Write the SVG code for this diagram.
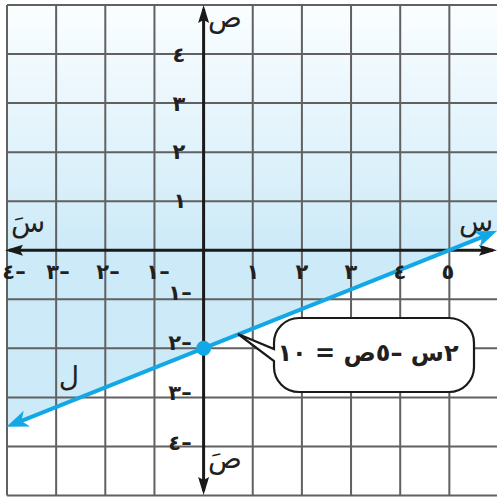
<svg xmlns="http://www.w3.org/2000/svg" width="497" height="497" viewBox="0 0 497 497">
<style>
.grid{fill:none;stroke:#616161;stroke-width:2}
.axis{fill:none;stroke:#1a1a1a;stroke-width:3}
.ln{fill:none;stroke:#12a8e6;stroke-width:4}
.t{font-family:"DejaVu Sans",sans-serif;font-size:21px;font-weight:bold;fill:#231f20;direction:rtl}
.lab{font-family:"DejaVu Sans",sans-serif;font-size:28px;fill:#231f20;direction:rtl}
.eq{font-family:"DejaVu Sans",sans-serif;font-size:24px;font-weight:bold;fill:#231f20;direction:rtl}
</style>
<defs>
<linearGradient id="sh" gradientUnits="userSpaceOnUse" x1="0" y1="5" x2="0" y2="250">
<stop offset="0" stop-color="#fbfeff"/>
<stop offset="1" stop-color="#cdeaf8"/>
</linearGradient>
<marker id="ah" markerUnits="userSpaceOnUse" orient="auto-start-reverse" overflow="visible" refX="0" refY="0" markerWidth="1" markerHeight="1">
<path d="M4,0 L-14,-5.5 L-11,0 L-14,5.5 Z" fill="#1a1a1a"/>
</marker>
<marker id="bh" markerUnits="userSpaceOnUse" orient="auto-start-reverse" overflow="visible" refX="0" refY="0" markerWidth="1" markerHeight="1">
<path d="M6,0 L-16,-8.5 L-10,0 L-16,8.5 Z" fill="#12a8e6"/>
</marker>
</defs>

<g id="shading">
<path d="M7,5 H498 V230.65 L7,426.86 Z" fill="url(#sh)"/>
</g>

<g id="grid">
<path class="grid" d="M7,5 V495.5 M56.15,5 V495.5 M105.3,5 V495.5 M154.45,5 V495.5 M252.75,5 V495.5 M301.9,5 V495.5 M351.05,5 V495.5 M400.2,5 V495.5 M449.35,5 V495.5 M7,5 H498 M7,54.05 H498 M7,103.1 H498 M7,152.15 H498 M7,201.2 H498 M7,299.3 H498 M7,348.35 H498 M7,397.4 H498 M7,446.45 H498 M7,495.5 H498"/>
</g>

<g id="axes">
<line class="axis" x1="9" y1="250.25" x2="493" y2="250.25" marker-start="url(#ah)" marker-end="url(#ah)"/>
<line class="axis" x1="203.6" y1="9" x2="203.6" y2="491" marker-start="url(#ah)" marker-end="url(#ah)"/>
</g>

<g id="connectors">
<line id="line-l" class="ln" x1="12.07" y1="424.63" x2="491.43" y2="233.28" marker-start="url(#bh)" marker-end="url(#bh)"/>
</g>

<g id="point">
<circle cx="203.6" cy="348.3" r="7.5" fill="#12a8e6"/>
</g>

<g id="callout">
<path d="M274,349 L274,343 A25,25 0 0 1 299,318 L449,318 A25,25 0 0 1 474,343 L474,367 A25,25 0 0 1 449,392 L299,392 A25,25 0 0 1 274,367 L274,361 L238,334 Z" fill="#ffffff" stroke="#1a1a1a" stroke-width="2.2" stroke-linejoin="miter"/>
<text class="eq" x="368" y="361" text-anchor="middle">٢س –٥ص = ١٠</text>
</g>

<g id="x-labels">
<text class="t" x="253" y="279" text-anchor="middle">١</text>
<text class="t" x="302" y="279" text-anchor="middle">٢</text>
<text class="t" x="351" y="279" text-anchor="middle">٣</text>
<text class="t" x="400" y="279" text-anchor="middle">٤</text>
<text class="t" x="448" y="279" text-anchor="middle">٥</text>
<text class="t" x="158" y="279" text-anchor="middle">–١</text>
<text class="t" x="108" y="279" text-anchor="middle">–٢</text>
<text class="t" x="58" y="279" text-anchor="middle">–٣</text>
<text class="t" x="14" y="279" text-anchor="middle">–٤</text>
</g>

<g id="y-labels">
<text class="t" x="179" y="62" text-anchor="middle">٤</text>
<text class="t" x="179" y="111" text-anchor="middle">٣</text>
<text class="t" x="179" y="159" text-anchor="middle">٢</text>
<text class="t" x="180" y="208" text-anchor="middle">١</text>
<text class="t" x="180" y="300" text-anchor="middle">–١</text>
<text class="t" x="180" y="350" text-anchor="middle">–٢</text>
<text class="t" x="180" y="400" text-anchor="middle">–٣</text>
<text class="t" x="180" y="450" text-anchor="middle">–٤</text>
</g>

<g id="axis-names">
<text class="lab" x="225" y="27" text-anchor="middle">ص</text>
<text class="lab" x="225" y="468" text-anchor="middle">صَ</text>
<text class="lab" x="28" y="232" text-anchor="middle">سَ</text>
<text class="lab" x="476" y="231" text-anchor="middle">س</text>
<text class="lab" x="69" y="386" text-anchor="middle">ل</text>
</g>
</svg>
